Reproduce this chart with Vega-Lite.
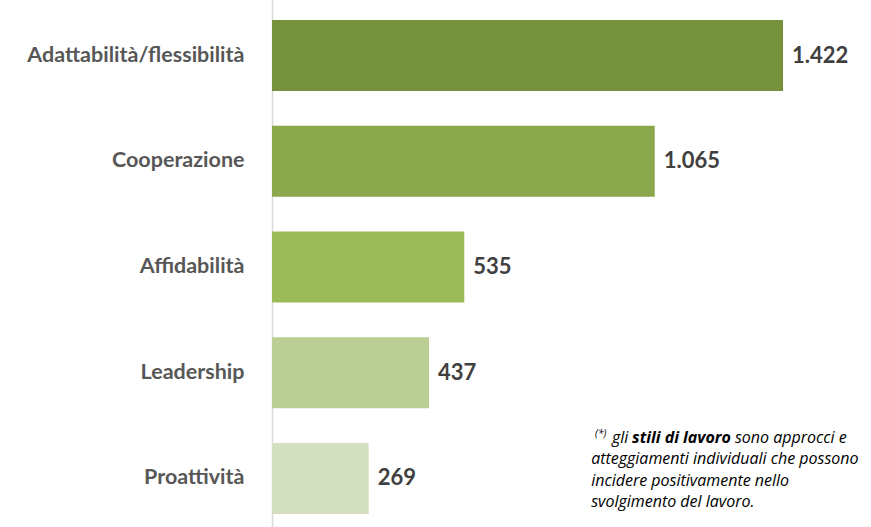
{
  "$schema": "https://vega.github.io/schema/vega-lite/v6.json",
  "width": 575,
  "height": 534,
  "autosize": {"type": "none"},
  "padding": {"left": 272, "top": 0, "right": 24, "bottom": 0},
  "config": {
    "view": {"stroke": null},
    "font": "Lato",
    "locale": {"number": {"decimal": ",", "thousands": ".", "grouping": [3], "currency": ["€", ""]}}
  },
  "datasets": {
    "bars": [
      {"stile": "Adattabilità/flessibilità", "valore": 1422},
      {"stile": "Cooperazione", "valore": 1065},
      {"stile": "Affidabilità", "valore": 535},
      {"stile": "Leadership", "valore": 437},
      {"stile": "Proattività", "valore": 269}
    ],
    "nota": [
      {"parte": "sup", "testo": "(*)"},
      {"parte": "a", "testo": "gli"},
      {"parte": "b", "testo": "stili di lavoro"},
      {"parte": "c", "testo": "sono approcci e"},
      {"parte": "d", "testo": "atteggiamenti individuali che possono\nincidere positivamente nello\nsvolgimento del lavoro."}
    ]
  },
  "resolve": {"scale": {"y": "independent"}},
  "layer": [
    {
      "data": {"name": "bars"},
      "encoding": {
        "y": {
          "field": "stile", "type": "nominal", "sort": null,
          "scale": {"paddingInner": 0.33, "paddingOuter": 0.19},
          "axis": {"title": null, "ticks": false, "domainColor": "#d9d9d9", "domainWidth": 1.5,
                   "labelFontSize": 21.5, "labelFontWeight": "bold", "labelColor": "#575757",
                   "labelPadding": 28, "labelFont": "Lato", "labelLimit": 400}
        },
        "x": {"field": "valore", "type": "quantitative", "scale": {"domain": [0, 1600]}, "axis": null}
      },
      "layer": [
        {
          "mark": {"type": "bar"},
          "encoding": {
            "color": {
              "field": "stile", "type": "nominal", "sort": null, "legend": null,
              "scale": {
                "domain": ["Adattabilità/flessibilità", "Cooperazione", "Affidabilità", "Leadership", "Proattività"],
                "range": ["#76923c", "#8aa74b", "#9bbb59", "#bbce96", "#d3dfbf"]
              }
            }
          }
        },
        {
          "mark": {"type": "text", "align": "left", "baseline": "middle", "dx": 9, "fontSize": 22, "fontWeight": "bold", "color": "#404040", "font": "Lato"},
          "encoding": {"text": {"field": "valore", "type": "quantitative", "format": ",d"}}
        }
      ]
    },
    {
      "data": {"name": "nota"},
      "transform": [{"filter": "datum.parte !== 'd'"}],
      "encoding": {
        "y": {"datum": 1, "type": "quantitative", "scale": {"domain": [1, 4], "range": [438, 502]}, "axis": null}
      },
      "layer": [
        {
          "transform": [{"filter": "datum.parte === 'sup'"}],
          "mark": {"type": "text", "align": "left", "baseline": "middle", "dy": -4, "fontSize": 10, "fontStyle": "italic", "color": "#000000", "font": "Open Sans"},
          "encoding": {"x": {"datum": 899, "type": "quantitative"}, "text": {"field": "testo"}}
        },
        {
          "transform": [{"filter": "datum.parte === 'a'"}],
          "mark": {"type": "text", "align": "left", "baseline": "middle", "fontSize": 16, "fontStyle": "italic", "color": "#000000", "font": "Open Sans"},
          "encoding": {"x": {"datum": 946, "type": "quantitative"}, "text": {"field": "testo"}}
        },
        {
          "transform": [{"filter": "datum.parte === 'b'"}],
          "mark": {"type": "text", "align": "left", "baseline": "middle", "fontSize": 16, "fontStyle": "italic", "fontWeight": "bold", "color": "#000000", "font": "Open Sans"},
          "encoding": {"x": {"datum": 1002, "type": "quantitative"}, "text": {"field": "testo"}}
        },
        {
          "transform": [{"filter": "datum.parte === 'c'"}],
          "mark": {"type": "text", "align": "left", "baseline": "middle", "fontSize": 16, "fontStyle": "italic", "color": "#000000", "font": "Open Sans"},
          "encoding": {"x": {"datum": 1288, "type": "quantitative"}, "text": {"field": "testo"}}
        }
      ]
    },
    {
      "data": {"name": "nota"},
      "transform": [{"filter": "datum.parte === 'd'"}],
      "mark": {"type": "text", "align": "left", "baseline": "middle", "fontSize": 16, "fontStyle": "italic", "color": "#000000", "font": "Open Sans", "lineBreak": "\n", "lineHeight": 21.5},
      "encoding": {
        "x": {"datum": 888, "type": "quantitative"},
        "y": {"datum": 2, "type": "quantitative", "scale": {"domain": [1, 4], "range": [438, 502]}, "axis": null},
        "text": {"field": "testo"}
      }
    }
  ]
}
